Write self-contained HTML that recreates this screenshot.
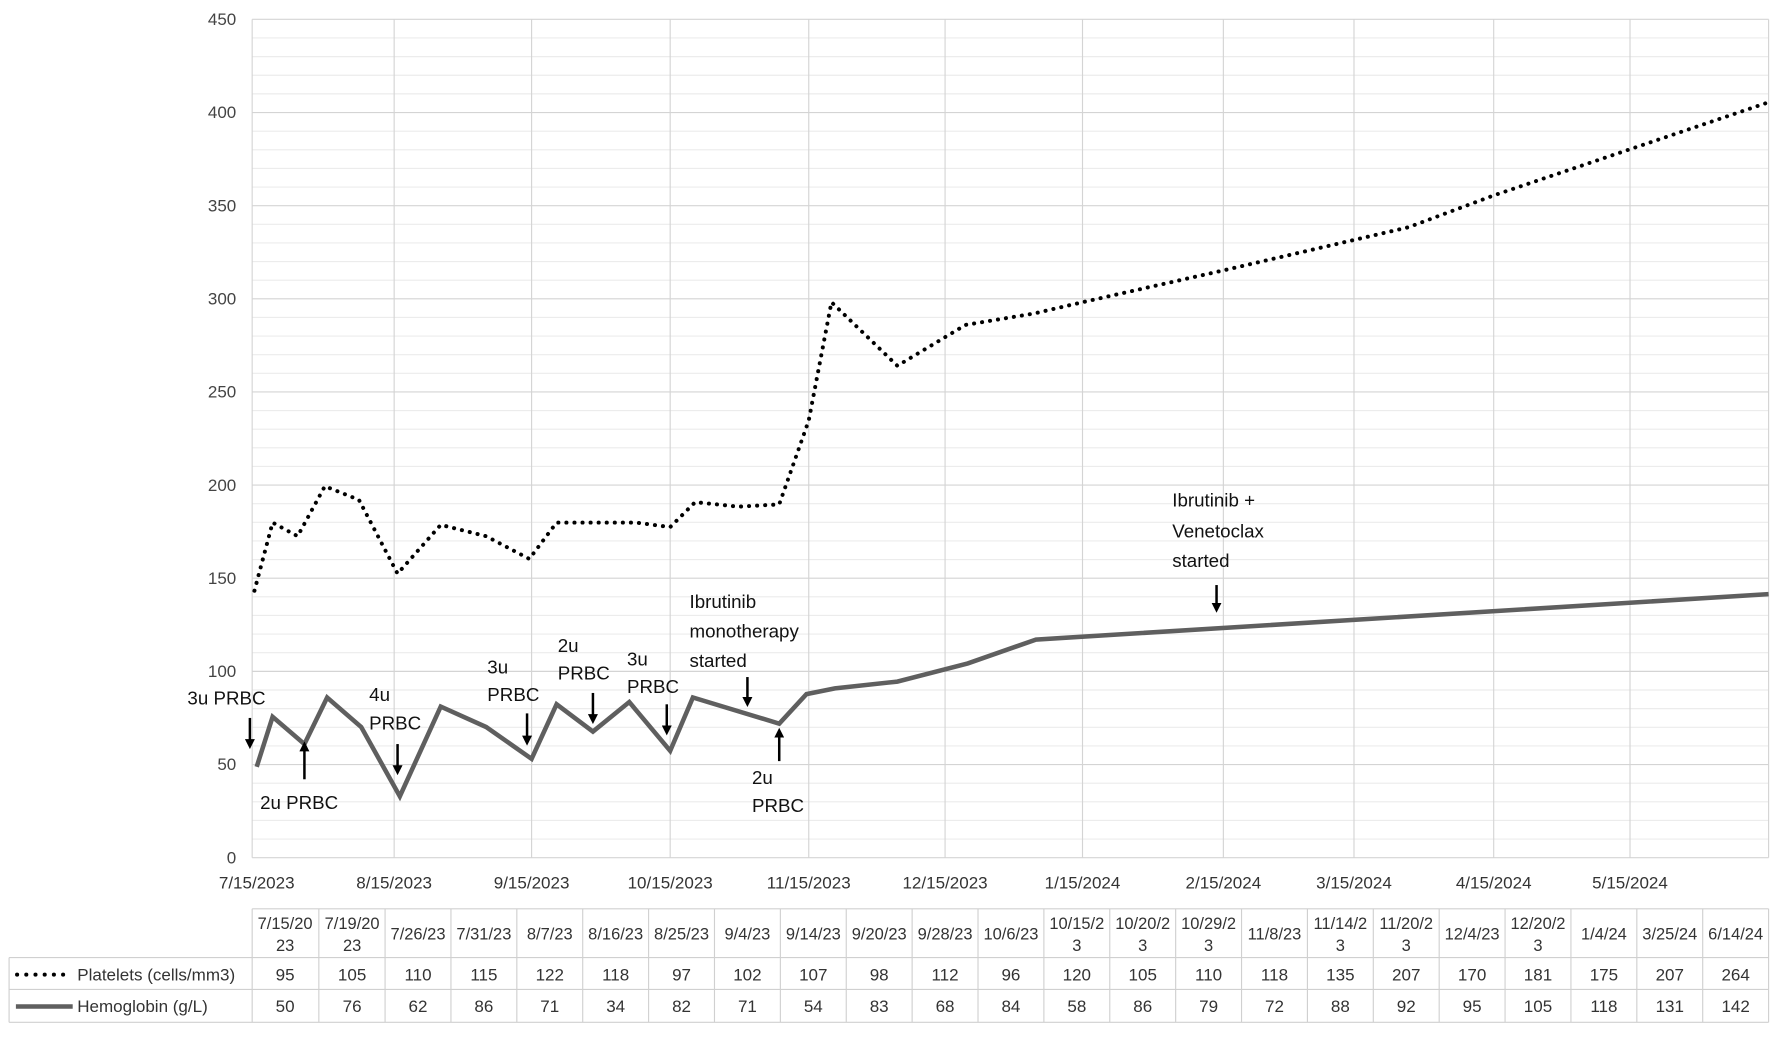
<!DOCTYPE html>
<html><head><meta charset="utf-8"><style>
html,body{margin:0;padding:0;background:#fff;}
svg{display:block;}
text{font-family:"Liberation Sans",sans-serif;}
</style></head><body>
<svg width="1772" height="1044" viewBox="0 0 1560 919" xmlns="http://www.w3.org/2000/svg">
<defs><marker id="ah" viewBox="0 0 10 10" refX="5" refY="5" markerWidth="4" markerHeight="4" orient="auto"><path d="M0,0 L10,5 L0,10 z" fill="#000"/></marker></defs>
<g stroke="#ececec" stroke-width="1">
<line x1="222" x2="1557" y1="33.4" y2="33.4"/><line x1="222" x2="1557" y1="49.8" y2="49.8"/><line x1="222" x2="1557" y1="66.2" y2="66.2"/><line x1="222" x2="1557" y1="82.6" y2="82.6"/>
<line x1="222" x2="1557" y1="115.4" y2="115.4"/><line x1="222" x2="1557" y1="131.8" y2="131.8"/><line x1="222" x2="1557" y1="148.2" y2="148.2"/><line x1="222" x2="1557" y1="164.6" y2="164.6"/>
<line x1="222" x2="1557" y1="197.4" y2="197.4"/><line x1="222" x2="1557" y1="213.8" y2="213.8"/><line x1="222" x2="1557" y1="230.2" y2="230.2"/><line x1="222" x2="1557" y1="246.6" y2="246.6"/>
<line x1="222" x2="1557" y1="279.4" y2="279.4"/><line x1="222" x2="1557" y1="295.8" y2="295.8"/><line x1="222" x2="1557" y1="312.2" y2="312.2"/><line x1="222" x2="1557" y1="328.6" y2="328.6"/>
<line x1="222" x2="1557" y1="361.4" y2="361.4"/><line x1="222" x2="1557" y1="377.8" y2="377.8"/><line x1="222" x2="1557" y1="394.2" y2="394.2"/><line x1="222" x2="1557" y1="410.6" y2="410.6"/>
<line x1="222" x2="1557" y1="443.4" y2="443.4"/><line x1="222" x2="1557" y1="459.8" y2="459.8"/><line x1="222" x2="1557" y1="476.2" y2="476.2"/><line x1="222" x2="1557" y1="492.6" y2="492.6"/>
<line x1="222" x2="1557" y1="525.4" y2="525.4"/><line x1="222" x2="1557" y1="541.8" y2="541.8"/><line x1="222" x2="1557" y1="558.2" y2="558.2"/><line x1="222" x2="1557" y1="574.6" y2="574.6"/>
<line x1="222" x2="1557" y1="607.4" y2="607.4"/><line x1="222" x2="1557" y1="623.8" y2="623.8"/><line x1="222" x2="1557" y1="640.2" y2="640.2"/><line x1="222" x2="1557" y1="656.6" y2="656.6"/>
<line x1="222" x2="1557" y1="689.4" y2="689.4"/><line x1="222" x2="1557" y1="705.8" y2="705.8"/><line x1="222" x2="1557" y1="722.2" y2="722.2"/><line x1="222" x2="1557" y1="738.6" y2="738.6"/>
</g>
<g stroke="#d4d4d4" stroke-width="1">
<line x1="222" x2="1557" y1="17" y2="17"/><line x1="222" x2="1557" y1="99" y2="99"/><line x1="222" x2="1557" y1="181" y2="181"/><line x1="222" x2="1557" y1="263" y2="263"/><line x1="222" x2="1557" y1="345" y2="345"/><line x1="222" x2="1557" y1="427" y2="427"/><line x1="222" x2="1557" y1="509" y2="509"/><line x1="222" x2="1557" y1="591" y2="591"/><line x1="222" x2="1557" y1="673" y2="673"/><line x1="222" x2="1557" y1="755" y2="755"/>
<line x1="222" x2="222" y1="17" y2="755"/><line x1="347" x2="347" y1="17" y2="755"/><line x1="468" x2="468" y1="17" y2="755"/><line x1="590" x2="590" y1="17" y2="755"/><line x1="712" x2="712" y1="17" y2="755"/><line x1="832" x2="832" y1="17" y2="755"/><line x1="953" x2="953" y1="17" y2="755"/><line x1="1077" x2="1077" y1="17" y2="755"/><line x1="1192" x2="1192" y1="17" y2="755"/><line x1="1315" x2="1315" y1="17" y2="755"/><line x1="1435" x2="1435" y1="17" y2="755"/><line x1="1557" x2="1557" y1="17" y2="755"/>
</g>
<g font-size="15" fill="#444" text-anchor="end">
<text x="208" y="22">450</text><text x="208" y="104">400</text><text x="208" y="186">350</text><text x="208" y="268">300</text><text x="208" y="350">250</text><text x="208" y="432">200</text><text x="208" y="514">150</text><text x="208" y="596">100</text><text x="208" y="678">50</text><text x="208" y="760">0</text>
</g>
<g font-size="15" fill="#333" text-anchor="middle">
<text x="226" y="782">7/15/2023</text><text x="347" y="782">8/15/2023</text><text x="468" y="782">9/15/2023</text><text x="590" y="782">10/15/2023</text><text x="712" y="782">11/15/2023</text><text x="832" y="782">12/15/2023</text><text x="953" y="782">1/15/2024</text><text x="1077" y="782">2/15/2024</text><text x="1192" y="782">3/15/2024</text><text x="1315" y="782">4/15/2024</text><text x="1435" y="782">5/15/2024</text>
</g>
<polyline fill="none" stroke="#000" stroke-width="3.5" stroke-dasharray="0.1 7" stroke-linecap="round" points="224,520 240,460 262,472 286,428 316,440 350,505 388,462 428,472 466,492 490,460 520,460 560,460 590,464 612,442 650,446 686,444 712,370 732,266 790,322 850,286 910,276 953,266 1077,238 1240,200 1315,172 1557,90"/>
<polyline fill="none" stroke="#5f5f5f" stroke-width="4" stroke-linejoin="miter" points="226,675 240,631 268,655 288,614 318,640 352,701 388,622 428,640 468,668 490,620 522,644 554,618 590,661 610,614 686,637 710,611 735,606 790,600 852,584 912,563 1557,523"/>
<g font-size="16.5" fill="#111">
<text x="165" y="620">3u PRBC</text>
<text x="229" y="712">2u PRBC</text>
<text x="325" y="617">4u</text><text x="325" y="642">PRBC</text>
<text x="429" y="593">3u</text><text x="429" y="617">PRBC</text>
<text x="491" y="574">2u</text><text x="491" y="598">PRBC</text>
<text x="552" y="586">3u</text><text x="552" y="610">PRBC</text>
<text x="607" y="535">Ibrutinib</text><text x="607" y="561">monotherapy</text><text x="607" y="587">started</text>
<text x="662" y="690">2u</text><text x="662" y="715">PRBC</text>
<text x="1032" y="446">Ibrutinib +</text><text x="1032" y="473">Venetoclax</text><text x="1032" y="499">started</text>
</g>
<g stroke="#000" stroke-width="2.2" marker-end="url(#ah)">
<line x1="220" y1="632" x2="220" y2="655"/>
<line x1="268" y1="686" x2="268" y2="657"/>
<line x1="350" y1="655" x2="350" y2="678"/>
<line x1="464" y1="628" x2="464" y2="652"/>
<line x1="522" y1="610" x2="522" y2="633"/>
<line x1="587" y1="620" x2="587" y2="643"/>
<line x1="658" y1="596" x2="658" y2="618"/>
<line x1="686" y1="670" x2="686" y2="645"/>
<line x1="1071" y1="515" x2="1071" y2="535"/>
</g>
<g stroke="#d0d0d0" stroke-width="1" fill="none">
<line x1="222" y1="800" x2="1557" y2="800"/>
<line x1="8" y1="843" x2="1557" y2="843"/>
<line x1="8" y1="871" x2="1557" y2="871"/>
<line x1="8" y1="900" x2="1557" y2="900"/>
<line x1="8" y1="843" x2="8" y2="900"/>
<line x1="222" y1="800" x2="222" y2="900"/><line x1="280.7" y1="800" x2="280.7" y2="900"/><line x1="339" y1="800" x2="339" y2="900"/><line x1="397" y1="800" x2="397" y2="900"/><line x1="455" y1="800" x2="455" y2="900"/><line x1="513" y1="800" x2="513" y2="900"/><line x1="571" y1="800" x2="571" y2="900"/><line x1="629" y1="800" x2="629" y2="900"/><line x1="687" y1="800" x2="687" y2="900"/><line x1="745" y1="800" x2="745" y2="900"/><line x1="803" y1="800" x2="803" y2="900"/><line x1="861" y1="800" x2="861" y2="900"/><line x1="919" y1="800" x2="919" y2="900"/><line x1="977" y1="800" x2="977" y2="900"/><line x1="1035" y1="800" x2="1035" y2="900"/><line x1="1093" y1="800" x2="1093" y2="900"/><line x1="1151" y1="800" x2="1151" y2="900"/><line x1="1209" y1="800" x2="1209" y2="900"/><line x1="1267" y1="800" x2="1267" y2="900"/><line x1="1325" y1="800" x2="1325" y2="900"/><line x1="1383" y1="800" x2="1383" y2="900"/><line x1="1441" y1="800" x2="1441" y2="900"/><line x1="1499" y1="800" x2="1499" y2="900"/><line x1="1557" y1="800" x2="1557" y2="900"/>
</g>
<g font-size="14.5" fill="#333" text-anchor="middle">
<text x="251" y="818">7/15/20</text><text x="251" y="837">23</text>
<text x="310" y="818">7/19/20</text><text x="310" y="837">23</text>
<text x="368" y="827">7/26/23</text><text x="426" y="827">7/31/23</text><text x="484" y="827">8/7/23</text><text x="542" y="827">8/16/23</text><text x="600" y="827">8/25/23</text><text x="658" y="827">9/4/23</text><text x="716" y="827">9/14/23</text><text x="774" y="827">9/20/23</text><text x="832" y="827">9/28/23</text><text x="890" y="827">10/6/23</text>
<text x="948" y="818">10/15/2</text><text x="948" y="837">3</text>
<text x="1006" y="818">10/20/2</text><text x="1006" y="837">3</text>
<text x="1064" y="818">10/29/2</text><text x="1064" y="837">3</text>
<text x="1122" y="827">11/8/23</text>
<text x="1180" y="818">11/14/2</text><text x="1180" y="837">3</text>
<text x="1238" y="818">11/20/2</text><text x="1238" y="837">3</text>
<text x="1296" y="827">12/4/23</text>
<text x="1354" y="818">12/20/2</text><text x="1354" y="837">3</text>
<text x="1412" y="827">1/4/24</text><text x="1470" y="827">3/25/24</text><text x="1528" y="827">6/14/24</text>
</g>
<g font-size="15" fill="#333" text-anchor="middle">
<text x="251" y="863">95</text><text x="310" y="863">105</text><text x="368" y="863">110</text><text x="426" y="863">115</text><text x="484" y="863">122</text><text x="542" y="863">118</text><text x="600" y="863">97</text><text x="658" y="863">102</text><text x="716" y="863">107</text><text x="774" y="863">98</text><text x="832" y="863">112</text><text x="890" y="863">96</text><text x="948" y="863">120</text><text x="1006" y="863">105</text><text x="1064" y="863">110</text><text x="1122" y="863">118</text><text x="1180" y="863">135</text><text x="1238" y="863">207</text><text x="1296" y="863">170</text><text x="1354" y="863">181</text><text x="1412" y="863">175</text><text x="1470" y="863">207</text><text x="1528" y="863">264</text>
<text x="251" y="891">50</text><text x="310" y="891">76</text><text x="368" y="891">62</text><text x="426" y="891">86</text><text x="484" y="891">71</text><text x="542" y="891">34</text><text x="600" y="891">82</text><text x="658" y="891">71</text><text x="716" y="891">54</text><text x="774" y="891">83</text><text x="832" y="891">68</text><text x="890" y="891">84</text><text x="948" y="891">58</text><text x="1006" y="891">86</text><text x="1064" y="891">79</text><text x="1122" y="891">72</text><text x="1180" y="891">88</text><text x="1238" y="891">92</text><text x="1296" y="891">95</text><text x="1354" y="891">105</text><text x="1412" y="891">118</text><text x="1470" y="891">131</text><text x="1528" y="891">142</text>
</g>
<line x1="15" y1="858" x2="62" y2="858" stroke="#000" stroke-width="3.5" stroke-dasharray="0.1 8" stroke-linecap="round"/>
<line x1="14" y1="886" x2="64" y2="886" stroke="#5f5f5f" stroke-width="4"/>
<g font-size="15" fill="#333">
<text x="68" y="863">Platelets (cells/mm3)</text>
<text x="68" y="891">Hemoglobin (g/L)</text>
</g>
</svg>
</body></html>
